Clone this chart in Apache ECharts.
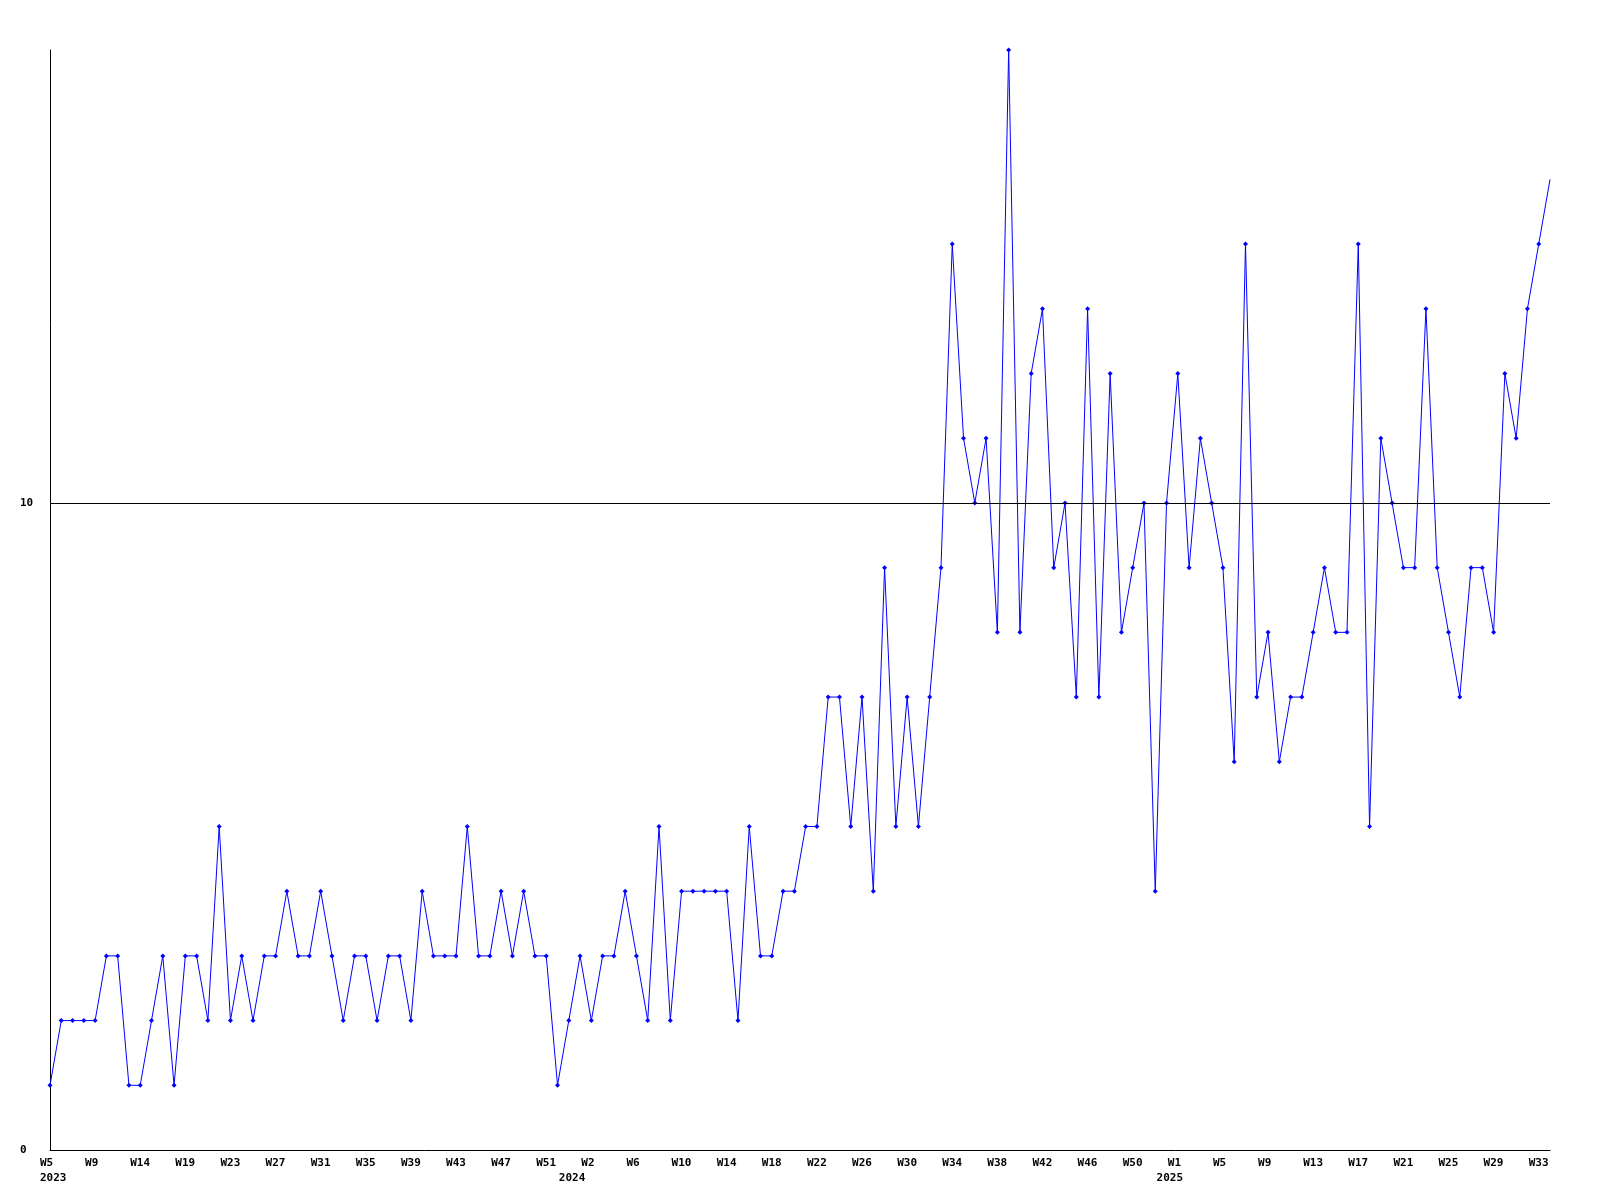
<!DOCTYPE html>
<html>
<head>
<meta charset="utf-8">
<script src="https://cdn.jsdelivr.net/npm/echarts@6/dist/echarts.min.js"></script>
<style>
html,body{margin:0;padding:0;background:#fff;}
#chart{width:1600px;height:1200px;}
</style>
</head>
<body>
<div id="chart"></div>
<script>
// Weekly values, 2023 W5 .. 2025 W34 (134 weeks)
const values = [
  1,2,2,2,2,3,3,1,1,2, 3,1,3,3,2,5,2,3,2,3,
  3,4,3,3,4,3,2,3,3,2, 3,3,2,4,3,3,3,5,3,3,
  4,3,4,3,3,1,2,3,2,3, 3,4,3,2,5,2,4,4,4,4,
  4,2,5,3,3,4,4,5,5,7, 7,5,7,4,9,5,7,5,7,9,
  14,11,10,11,8,17,8,12,13,9, 10,7,13,7,12,8,9,10,4,10,
  12,9,11,10,9,6,14,7,8,6, 7,7,8,9,8,8,14,5,11,10,
  9,9,13,9,8,7,9,9,8,12, 11,13,14,15
];
// Tick labels shown every 4th week
const weekTickLabels = ['W5','W9','W14','W19','W23','W27','W31','W35','W39','W43','W47','W51',
  'W2','W6','W10','W14','W18','W22','W26','W30','W34','W38','W42','W46','W50',
  'W1','W5','W9','W13','W17','W21','W25','W29','W33'];
const yearLabelIndex = [0, 46, 99];
const yearLabelText = ['2023', '2024', '2025'];
const categories = values.map((_, i) => String(i));

const FONT = {fontFamily: '"DejaVu Sans Mono", monospace', fontSize: 11, fontWeight: 'bold', color: '#000'};

const seriesData = values.map((v, i) => i === values.length - 1 ? {value: v, symbol: 'none'} : v);

const chart = echarts.init(document.getElementById('chart'), null, {renderer: 'canvas'});
chart.setOption({
  animation: false,
  backgroundColor: '#fff',
  grid: [
    {left: 50, right: 50, top: 50, bottom: 50},
    {left: 40, right: 60, top: 50, bottom: 50}
  ],
  xAxis: [
    {
      gridIndex: 0, type: 'category', data: categories, boundaryGap: false,
      axisLine: {show: true, lineStyle: {color: '#000', width: 1}},
      axisTick: {show: false}, axisLabel: {show: false}, splitLine: {show: false}
    },
    {
      gridIndex: 1, type: 'category', data: categories, boundaryGap: false,
      axisLine: {show: false}, axisTick: {show: false}, splitLine: {show: false},
      axisLabel: Object.assign({
        interval: 0, align: 'left', verticalAlign: 'top', margin: 6, lineHeight: 15,
        formatter: (val, idx) => {
          let s = idx % 4 === 0 ? (weekTickLabels[idx / 4] || '') : '';
          const y = yearLabelIndex.indexOf(idx);
          if (y >= 0) s += '\n' + yearLabelText[y];
          return s;
        }
      }, FONT)
    }
  ],
  yAxis: [
    {
      gridIndex: 0, type: 'value', min: 0, max: 17, interval: 10,
      axisLine: {show: true, lineStyle: {color: '#000', width: 1}},
      axisTick: {show: false}, splitLine: {show: false},
      axisLabel: Object.assign({
        align: 'left', margin: 30, showMaxLabel: false,
        formatter: v => (v === 0 || v === 10) ? String(v) : ''
      }, FONT)
    },
    {gridIndex: 1, type: 'value', min: 0, max: 1, show: false}
  ],
  series: [{
    type: 'line',
    xAxisIndex: 0, yAxisIndex: 0,
    data: seriesData,
    symbol: 'diamond', symbolSize: 5, showSymbol: true,
    lineStyle: {color: '#0000ff', width: 1},
    itemStyle: {color: '#0000ff'},
    markLine: {
      silent: true, symbol: 'none', label: {show: false},
      lineStyle: {color: '#000', width: 1, type: 'solid'},
      data: [{yAxis: 10}]
    }
  }]
});
</script>
</body>
</html>
